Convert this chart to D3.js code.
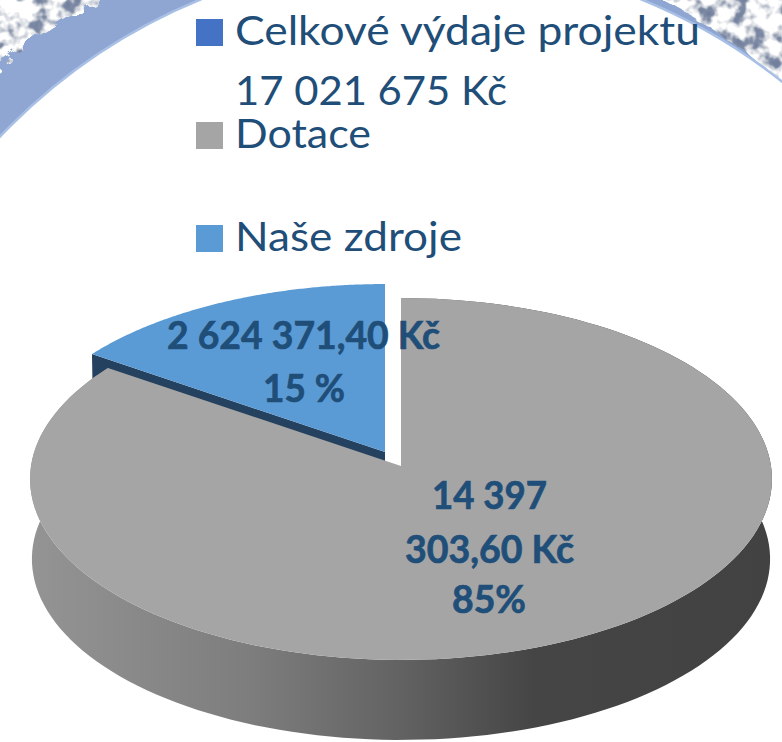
<!DOCTYPE html>
<html lang="cs">
<head>
    <meta charset="UTF-8">
    <title>Celkové výdaje projektu</title>
    <script src="https://d3js.org/d3.v7.min.js"></script>
    <style>
        html, body { margin: 0; padding: 0; background: #fff; overflow: hidden; }
        svg { display: block; }
        text { font-family: Lato, "Noto Sans", sans-serif; fill: #1f4e79; }
    </style>
</head>
<body>
    <div id="chart"></div>
    <script>
        // data
        const categories = ["Dotace", "Naše zdroje"];
        const values = [14397303.60, 2624371.40];
        const legendLabels = ["Celkové výdaje projektu", "17 021 675 Kč", "Dotace", "Naše zdroje"];
        const legendColors = ["#4472c4", null, "#a5a5a5", "#5b9bd5"];
        const sliceLabels = [
            ["14 397", "303,60 Kč", "85%"],
            ["2 624 371,40 Kč", "15 %"]
        ];

        // layout, measured separately from the data
        const legendBaselines = [45, 105, 148, 251];
        const legendWidths = [465, 272, 136, 227];
        const labelBoxes = [
            [{x: 432, y: 509, w: 115}, {x: 405, y: 563, w: 169}, {x: 452, y: 613, w: 74}],
            [{x: 167, y: 349, w: 273}, {x: 263, y: 402, w: 82}]
        ];

        const width = 782, height = 742;
        const svg = d3.select("#chart").append("svg")
            .attr("width", width)
            .attr("height", height);
        const defs = svg.append("defs");

        // cloud texture of the slide background
        const filter = defs.append("filter").attr("id", "clouds")
            .attr("x", 0).attr("y", 0).attr("width", 1).attr("height", 1)
            .attr("filterUnits", "objectBoundingBox")
            .attr("color-interpolation-filters", "sRGB");
        filter.append("feTurbulence").attr("type", "fractalNoise")
            .attr("baseFrequency", 0.06).attr("numOctaves", 3).attr("seed", 8).attr("result", "noise");
        filter.append("feDisplacementMap").attr("in", "SourceGraphic").attr("in2", "noise")
            .attr("scale", 18).attr("result", "rough");
        filter.append("feColorMatrix").attr("in", "noise").attr("type", "matrix")
            .attr("values", "1 0 0 0 0  1 0 0 0 0  1 0 0 0 0  0 0 0 0 1");
        const transfer = filter.append("feComponentTransfer").attr("result", "tint");
        transfer.append("feFuncR").attr("type", "table").attr("tableValues", "0.45 0.45 0.45 0.5 0.8 1 1 1 1 1");
        transfer.append("feFuncG").attr("type", "table").attr("tableValues", "0.5 0.5 0.5 0.55 0.82 1 1 1 1 1");
        transfer.append("feFuncB").attr("type", "table").attr("tableValues", "0.62 0.62 0.62 0.65 0.85 1 1 1 1 1");
        filter.append("feComposite").attr("in", "tint").attr("in2", "rough").attr("operator", "in");

        svg.append("rect").attr("width", width).attr("height", height).attr("fill", "#8ea6d1");

        // everything outside the coast circle gets the texture
        const coast = d3.path();
        coast.rect(-40, -40, width + 80, 240);
        coast.moveTo(381 + 610, 541);
        coast.arc(381, 541, 610, 0, 2 * Math.PI);
        svg.append("path")
            .attr("d", coast.toString())
            .attr("fill", "#fff")
            .attr("fill-rule", "evenodd")
            .attr("filter", "url(#clouds)");

        // white disc of the slide
        svg.append("circle")
            .attr("cx", 421).attr("cy", 537).attr("r", 581)
            .attr("fill", "#fff")
            .attr("stroke", "#a9c0e6")
            .attr("stroke-width", 2.5);

        // perspective projection of the pie plane
        const rx = 370, ry = 180, persp = 0.0717, depth = 80;
        function project(angle, r, apex, down) {
            const u = r * Math.sin(angle), v = r * Math.cos(angle);
            const w = 1 + persp * v;
            const shrink = down ? 0.995 : 1;
            return [apex[0] + shrink * rx * u / w, apex[1] - ry * v / w + (down ? depth : 0)];
        }
        const line = d3.line();
        function arcPoints(d, apex, down) {
            const n = 160;
            return d3.range(n + 1).map(i =>
                project(d.startAngle + (d.endAngle - d.startAngle) * i / n, 1, apex, down));
        }

        const pie = d3.pie().sort(null).value(v => v)(values);
        const apexes = [[401, 466], [385, 452]];

        const wallGradient = defs.append("linearGradient").attr("id", "wall")
            .attr("gradientUnits", "userSpaceOnUse")
            .attr("x1", 30).attr("x2", 772).attr("y1", 0).attr("y2", 0);
        [[0, "#949494"], [0.3, "#7d7d7d"], [0.5, "#626262"], [0.68, "#454545"], [1, "#424242"]]
            .forEach(s => wallGradient.append("stop").attr("offset", s[0]).attr("stop-color", s[1]));

        // blue slice sits behind the grey one
        const blue = pie[1], grey = pie[0];
        const blueTip = project(blue.startAngle, 1, apexes[1], false);
        const blueBase = project(blue.startAngle, 1, apexes[1], true);
        svg.append("path")
            .attr("d", line([apexes[1], blueTip, blueBase, [apexes[1][0], apexes[1][1] + depth]]) + "Z")
            .attr("fill", "#24425f");
        svg.append("path")
            .attr("d", line([apexes[1], ...arcPoints(blue, apexes[1], false)]) + "Z")
            .attr("fill", legendColors[3]);

        // grey wall is a ring between the top and bottom outlines
        svg.append("path")
            .attr("d", line([...arcPoints(grey, apexes[0], false), ...arcPoints(grey, apexes[0], true).reverse()]) + "Z")
            .attr("fill", "url(#wall)");
        svg.append("path")
            .attr("d", line([apexes[0], ...arcPoints(grey, apexes[0], false)]) + "Z")
            .attr("fill", legendColors[2]);

        // legend
        const legend = svg.append("g");
        legend.selectAll("rect")
            .data(legendLabels.map((l, i) => ({color: legendColors[i], y: legendBaselines[i]})).filter(d => d.color))
            .enter()
            .append("rect")
            .attr("x", 196)
            .attr("y", d => d.y - 26)
            .attr("width", 27)
            .attr("height", 27)
            .attr("fill", d => d.color);
        legend.selectAll("text")
            .data(legendLabels)
            .enter()
            .append("text")
            .attr("x", 235)
            .attr("y", (d, i) => legendBaselines[i])
            .attr("font-size", 40)
            .attr("textLength", (d, i) => legendWidths[i])
            .attr("lengthAdjust", "spacingAndGlyphs")
            .text(d => d);

        // slice labels
        categories.forEach((c, i) => {
            sliceLabels[i].forEach((t, j) => {
                const box = labelBoxes[i][j];
                svg.append("text")
                    .attr("x", box.x)
                    .attr("y", box.y)
                    .attr("font-size", 38)
                    .attr("font-weight", 700)
                    .attr("stroke", "#1f4e79")
                    .attr("stroke-width", 0.7)
                    .attr("textLength", box.w)
                    .attr("lengthAdjust", "spacingAndGlyphs")
                    .text(t);
            });
        });
    </script>
</body>
</html>
